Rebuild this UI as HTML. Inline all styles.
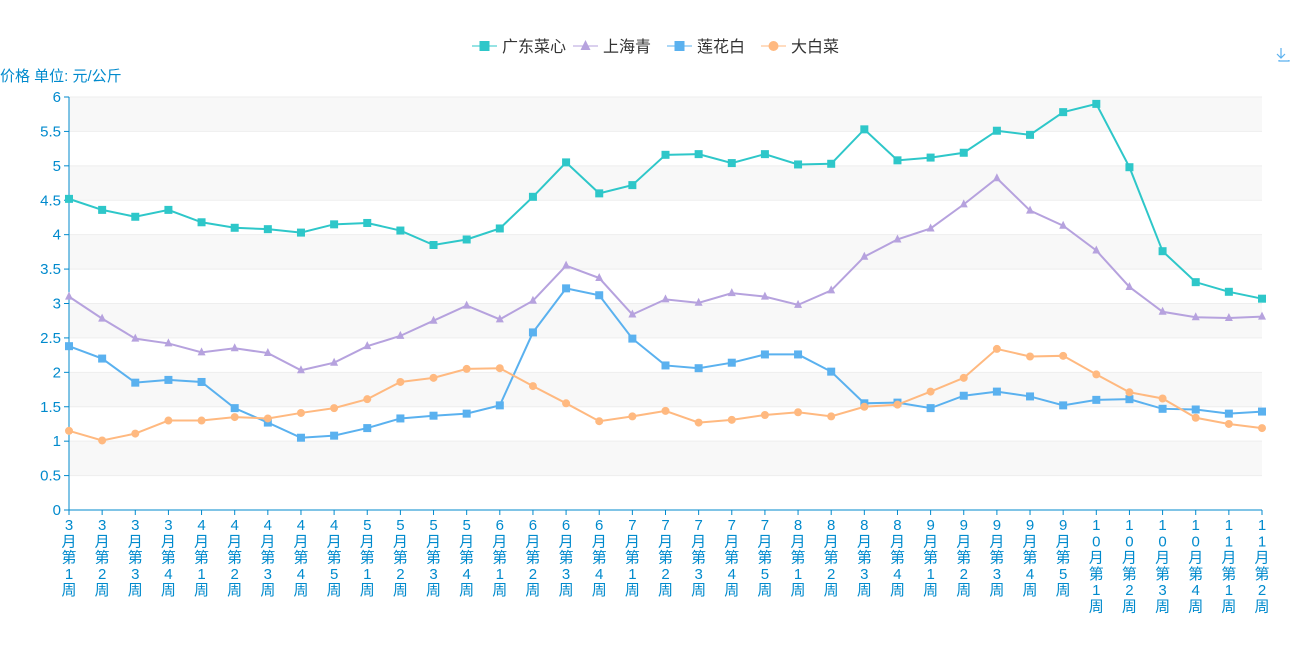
<!DOCTYPE html>
<html><head><meta charset="utf-8"><style>
body{margin:0;background:#fff;width:1300px;height:650px;overflow:hidden}
text{font-family:"Liberation Sans","Noto Sans CJK SC",sans-serif}
</style></head><body>
<svg id="s" width="1300" height="650" xmlns="http://www.w3.org/2000/svg"></svg>
<script>
const s=document.getElementById('s');
const X0=69,X1=1262,Y0=510,Y6=97,N=37;
const xs=i=>X0+(X1-X0)*i/(N-1), ys=v=>Y0-(Y0-Y6)*v/6;
let h='';
for(let k=0;k<12;k++){const y1=ys((k+1)*0.5),y2=ys(k*0.5);
 h+=`<rect x="${X0}" y="${y1}" width="${X1-X0}" height="${y2-y1}" fill="${k%2?'#f8f8f8':'#ffffff'}"/>`;}
for(let k=1;k<=12;k++){const y=ys(k*0.5);h+=`<line x1="${X0}" x2="${X1}" y1="${y}" y2="${y}" stroke="#eee"/>`;}
h+=`<line x1="${X0}" x2="${X0}" y1="${Y6}" y2="${Y0}" stroke="#008acd"/><line x1="${X0}" x2="${X1}" y1="${Y0}" y2="${Y0}" stroke="#008acd"/>`;
for(let k=0;k<=12;k++){const v=k*0.5,y=ys(v);h+=`<line x1="${X0-5}" x2="${X0}" y1="${y}" y2="${y}" stroke="#008acd"/><text x="${X0-8}" y="${y+5}" text-anchor="end" font-size="15" fill="#008acd">${v}</text>`;}
const labs=[];const m=[[3,4],[4,5],[5,4],[6,4],[7,5],[8,4],[9,5],[10,4],[11,2]];
m.forEach(([mo,n])=>{for(let w=1;w<=n;w++)labs.push(String(mo)+'月第'+w+'周');});
labs.forEach((l,i)=>{const x=xs(i);h+=`<line x1="${x}" x2="${x}" y1="${Y0}" y2="${Y0+5}" stroke="#008acd"/>`;
 [...l].forEach((c,j)=>{h+=`<text x="${x}" y="${530+j*16.3}" text-anchor="middle" font-size="15" fill="#008acd">${c}</text>`;});});
h+=`<text x="0" y="81" font-size="15" fill="#008acd">价格 单位: 元/公斤</text>`;
const D=[
['#2ec7c9','sq',[4.52,4.36,4.26,4.36,4.18,4.10,4.08,4.03,4.15,4.17,4.06,3.85,3.93,4.09,4.55,5.05,4.60,4.72,5.16,5.17,5.04,5.17,5.02,5.03,5.53,5.08,5.12,5.19,5.51,5.45,5.78,5.90,4.98,3.76,3.31,3.17,3.07]],
['#b6a2de','tri',[3.10,2.78,2.49,2.42,2.29,2.35,2.28,2.03,2.14,2.38,2.53,2.75,2.97,2.77,3.04,3.55,3.37,2.84,3.06,3.01,3.15,3.10,2.98,3.19,3.68,3.93,4.09,4.44,4.82,4.35,4.13,3.77,3.24,2.88,2.80,2.79,2.81]],
['#5ab1ef','sq',[2.38,2.20,1.85,1.89,1.86,1.48,1.27,1.05,1.08,1.19,1.33,1.37,1.40,1.52,2.58,3.22,3.12,2.49,2.10,2.06,2.14,2.26,2.26,2.01,1.55,1.56,1.48,1.66,1.72,1.65,1.52,1.60,1.61,1.47,1.46,1.40,1.43]],
['#ffb980','ci',[1.15,1.01,1.11,1.30,1.30,1.35,1.33,1.41,1.48,1.61,1.86,1.92,2.05,2.06,1.80,1.55,1.29,1.36,1.44,1.27,1.31,1.38,1.42,1.36,1.50,1.53,1.72,1.92,2.34,2.23,2.24,1.97,1.71,1.62,1.34,1.25,1.19]]];
function mk(t,x,y,c,r){if(t=='sq')return `<rect x="${x-r}" y="${y-r}" width="${2*r}" height="${2*r}" fill="${c}"/>`;
 if(t=='tri')return `<polygon points="${x},${y-r-1} ${x+r},${y+r-1} ${x-r},${y+r-1}" fill="${c}"/>`;
 return `<circle cx="${x}" cy="${y}" r="${r}" fill="${c}"/>`;}
D.forEach(([c,t,d])=>{h+=`<polyline fill="none" stroke="${c}" stroke-width="2" points="${d.map((v,i)=>xs(i)+','+ys(v)).join(' ')}"/>`;
 d.forEach((v,i)=>h+=mk(t,xs(i),ys(v),c,4));});
const L=[['广东菜心',472],['上海青',573],['莲花白',667],['大白菜',761]];
L.forEach(([n,x],i)=>{const [c,t]=D[i];h+=`<line x1="${x}" x2="${x+25}" y1="46" y2="46" stroke="${c}" stroke-width="1"/>`+mk(t,x+12.5,46,c,5)+`<text x="${x+30}" y="52" font-size="16" fill="#333">${n}</text>`;});
h+=`<path d="M1281 48 v10 M1277 54 l4 4 4-4 M1279 60 v1 h10 v-1" stroke="#5ab1ef" fill="none" stroke-width="1.2"/>`;
s.innerHTML=h;
</script>
</body></html>
